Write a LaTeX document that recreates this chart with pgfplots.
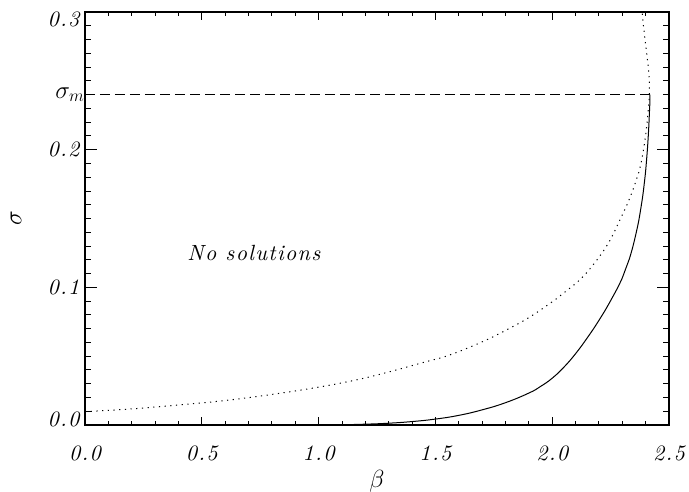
\documentclass[border=0pt]{standalone}
\usepackage{fontspec}
\usepackage{pgfplots}
\pgfplotsset{compat=1.18}
\usetikzlibrary{calc}

% IDL-like italic lettering for ticks and the note
\newfontfamily\idlfont{lmroman10-italic}[Extension=.otf, LetterSpace=6]
\newcommand\lbl{\fontsize{22bp}{26bp}\idlfont}
\newcommand\mathlbl{\fontsize{24bp}{28bp}\selectfont}

\begin{document}
\begin{tikzpicture}
% main axis: data, box and x ticks
\begin{axis}[
    name=main,
    scale only axis,
    width=584bp, height=413bp,
    xmin=0, xmax=2.5,
    ymin=0, ymax=0.3,
    xtick={0,0.5,1,1.5,2,2.5},
    xticklabels={0.0,0.5,1.0,1.5,2.0,2.5},
    minor x tick num=4,
    ytick=\empty,
    xtick pos=both,
    tick align=inside,
    major tick length=8bp, minor tick length=4bp,
    axis line style={line width=1.2bp},
    every tick/.style={black, line width=0.9bp},
    x tick label style={font=\lbl, yshift=-17bp},
    xlabel={$\beta$},
    x label style={at={(axis description cs:0.5,0)}, anchor=north,
        yshift=-45bp, inner sep=0pt, font=\mathlbl},
]
% sigma_m level
\addplot[black, line width=0.9bp, dash pattern=on 10bp off 5bp]
    coordinates {(0,0.24)(2.4186,0.24)};

% dotted branch
\addplot[black, line width=1bp, dash pattern=on 1.2bp off 4.5bp, smooth, tension=0.7] table {
x y
0.00 0.0097
0.20 0.0117
0.40 0.0145
0.60 0.0178
0.80 0.0222
1.00 0.0275
1.16 0.0327
1.30 0.0385
1.45 0.0455
1.56 0.0508
1.70 0.0604
1.80 0.0687
1.90 0.0780
2.00 0.0895
2.05 0.0960
2.12 0.1058
2.18 0.1174
2.24 0.1320
2.29 0.1490
2.33 0.1640
2.36 0.1780
2.38 0.1900
2.397 0.2070
2.408 0.2230
2.414 0.2350
2.416 0.2450
2.414 0.2550
2.408 0.2650
2.400 0.2760
2.392 0.2880
2.385 0.3000
2.383 0.3030
};

% solid branch
\addplot[black, line width=1bp, smooth, tension=0.8] table {
x y
1.00 0.0000
1.10 0.0002
1.20 0.0006
1.30 0.0013
1.40 0.0025
1.50 0.0043
1.60 0.0070
1.70 0.0110
1.80 0.0162
1.90 0.0232
1.95 0.0280
2.00 0.0340
2.05 0.0420
2.10 0.0518
2.15 0.0633
2.20 0.0760
2.25 0.0903
2.30 0.1068
2.33 0.1205
2.36 0.1400
2.38 0.1580
2.395 0.1767
2.405 0.1947
2.412 0.2122
2.416 0.2262
2.418 0.2340
2.4186 0.2400
};

\node[font=\lbl] at (axis cs:0.723,0.1253) {No solutions};
\end{axis}

% second axis: y ticks with their own lengths
\begin{axis}[
    scale only axis,
    width=584bp, height=413bp,
    xmin=0, xmax=2.5,
    ymin=0, ymax=0.3,
    xtick=\empty,
    ytick={0,0.1,0.2,0.3},
    yticklabels={\raisebox{6bp}[\height][\depth]{0.0},0.1,0.2,\raisebox{-7.5bp}[\height][\depth]{0.3}},
    minor y tick num=9,
    ytick pos=both,
    tick align=inside,
    major tick length=12bp, minor tick length=6bp,
    axis line style={draw=none},
    every tick/.style={black, line width=0.9bp},
    y tick label style={font=\lbl, xshift=-2bp},
    extra y ticks={0.24},
    extra y tick labels={$\sigma_m$},
    extra y tick style={tick style={draw=none},
        y tick label style={font=\mathlbl, xshift=5bp}},
    ylabel={$\sigma$},
    y label style={at={(axis description cs:0,0.5)}, anchor=center,
        xshift=0bp, yshift=69bp, font=\mathlbl},
]
\end{axis}

\pgfresetboundingbox
\path[use as bounding box] ($(main.south west)+(-85bp,-67bp)$) rectangle ($(main.north east)+(20bp,12bp)$);
\end{tikzpicture}
\end{document}
